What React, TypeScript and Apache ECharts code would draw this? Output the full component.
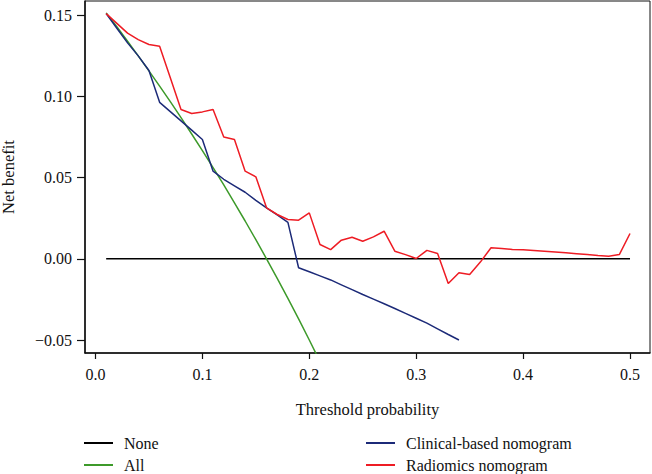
import React, { useEffect, useRef } from "react";
import * as echarts from "echarts";

const xTicks = [0, 0.1, 0.2, 0.3, 0.4, 0.5];
const yTicks = [-0.05, 0, 0.05, 0.1, 0.15];

const noneX = [0.01, 0.5];
const noneY = [0, 0];

const allX = [0.01, 0.02, 0.03, 0.04, 0.05, 0.06, 0.07, 0.08, 0.09, 0.1, 0.11, 0.12, 0.13, 0.14, 0.15, 0.16, 0.17, 0.18, 0.19, 0.2, 0.21];
const allY = [0.1515, 0.1429, 0.134, 0.125, 0.1158, 0.1064, 0.0968, 0.087, 0.0769, 0.0667, 0.0562, 0.0455, 0.0345, 0.0233, 0.0118, 0.0, -0.0121, -0.0244, -0.037, -0.05, -0.0633];

const clinicalX = [0.01, 0.02, 0.03, 0.04, 0.05, 0.06, 0.07, 0.08, 0.09, 0.1, 0.11, 0.12, 0.13, 0.14, 0.15, 0.16, 0.17, 0.18, 0.19, 0.2, 0.21, 0.22, 0.23, 0.24, 0.25, 0.26, 0.27, 0.28, 0.29, 0.3, 0.31, 0.32, 0.33, 0.34];
const clinicalY = [0.151, 0.142, 0.133, 0.125, 0.116, 0.0964, 0.0907, 0.085, 0.0793, 0.0735, 0.054, 0.049, 0.045, 0.041, 0.036, 0.0314, 0.027, 0.0225, -0.0055, -0.008, -0.0105, -0.013, -0.016, -0.019, -0.022, -0.0248, -0.0277, -0.0306, -0.0336, -0.0366, -0.0396, -0.0431, -0.0466, -0.05];

const radiomicsX = [0.01, 0.02, 0.03, 0.04, 0.05, 0.06, 0.07, 0.08, 0.09, 0.1, 0.11, 0.12, 0.13, 0.14, 0.15, 0.16, 0.17, 0.18, 0.19, 0.2, 0.21, 0.22, 0.23, 0.24, 0.25, 0.26, 0.27, 0.28, 0.29, 0.3, 0.31, 0.32, 0.33, 0.34, 0.35, 0.36, 0.37, 0.38, 0.39, 0.4, 0.41, 0.42, 0.43, 0.44, 0.45, 0.46, 0.47, 0.48, 0.49, 0.5];
const radiomicsY = [0.151, 0.145, 0.139, 0.135, 0.132, 0.131, 0.1115, 0.092, 0.0895, 0.0905, 0.092, 0.075, 0.0735, 0.054, 0.0505, 0.0314, 0.0273, 0.0242, 0.0238, 0.0283, 0.0088, 0.0057, 0.0115, 0.0133, 0.0108, 0.0135, 0.017, 0.0047, 0.0026, 0.0002, 0.0052, 0.0033, -0.0152, -0.0086, -0.0097, -0.002, 0.0068, 0.0063, 0.0058, 0.0056, 0.0052, 0.0047, 0.0042, 0.0037, 0.0032, 0.0027, 0.0021, 0.0016, 0.0026, 0.0156];

const pairs = (xs: number[], ys: number[]) => xs.map((x, i) => [x, ys[i]]);

const FONT = "'Liberation Serif', 'DejaVu Serif', serif";

export default function App() {
  const ref = useRef<HTMLDivElement>(null);
  useEffect(() => {
    if (!ref.current) return;
    const chart = echarts.init(ref.current, null, { renderer: "svg" });
    const legendCommon = {
      orient: "vertical",
      icon: "rect",
      itemWidth: 29,
      itemHeight: 2,
      itemGap: 6,
      height: 80,
      width: 260,
      padding: 0,
      textStyle: { fontFamily: FONT, fontSize: 16, color: "#111", padding: [0, 0, 0, 6] },
      selectedMode: false,
    };
    chart.setOption({
      animation: false,
      textStyle: { fontFamily: FONT },
      grid: {
        left: 85,
        right: 2,
        top: 1,
        bottom: 121,
        show: true,
        borderColor: "#111",
        borderWidth: 1,
        outerBoundsMode: "none",
        containLabel: false,
      },
      legend: [
        { ...legendCommon, data: ["None", "All"], left: 84, top: 435 },
        { ...legendCommon, data: ["Clinical-based nomogram", "Radiomics nomogram"], left: 366, top: 435 },
      ],
      xAxis: {
        type: "value",
        min: -0.0098,
        max: 0.5187,
        name: "Threshold probability",
        nameLocation: "middle",
        nameGap: 48,
        nameTextStyle: { fontFamily: FONT, fontSize: 16.5, color: "#111" },
        axisLine: { show: true, onZero: false, lineStyle: { color: "#111", width: 1.5 } },
        axisTick: { show: true, inside: false, length: 6, customValues: xTicks, lineStyle: { color: "#111", width: 1.2 } },
        axisLabel: {
          customValues: xTicks,
          margin: 13,
          fontFamily: FONT,
          fontSize: 16,
          color: "#111",
          formatter: (v: number) => v.toFixed(1),
        },
        splitLine: { show: false },
      },
      yAxis: {
        type: "value",
        min: -0.058,
        max: 0.1588,
        name: "Net benefit",
        nameLocation: "middle",
        nameGap: 68,
        nameTextStyle: { fontFamily: FONT, fontSize: 16.5, color: "#111" },
        axisLine: { show: true, onZero: false, lineStyle: { color: "#111", width: 1.5 } },
        axisTick: { show: true, inside: false, length: 8, customValues: yTicks, lineStyle: { color: "#111", width: 1.2 } },
        axisLabel: {
          customValues: yTicks,
          margin: 13,
          fontFamily: FONT,
          fontSize: 16,
          color: "#111",
          formatter: (v: number) => v.toFixed(2).replace("-", "\u2212"),
        },
        splitLine: { show: false },
      },
      series: [
        {
          name: "None",
          type: "line",
          data: pairs(noneX, noneY),
          showSymbol: false,
          color: "#000",
          lineStyle: { color: "#000", width: 1.5 },
          clip: true,
        },
        {
          name: "All",
          type: "line",
          data: pairs(allX, allY),
          showSymbol: false,
          color: "#3d9a2a",
          lineStyle: { color: "#3d9a2a", width: 1.5 },
          clip: true,
        },
        {
          name: "Clinical-based nomogram",
          type: "line",
          data: pairs(clinicalX, clinicalY),
          showSymbol: false,
          color: "#1c2a78",
          lineStyle: { color: "#1c2a78", width: 1.5 },
          clip: true,
        },
        {
          name: "Radiomics nomogram",
          type: "line",
          data: pairs(radiomicsX, radiomicsY),
          showSymbol: false,
          color: "#ee1c24",
          lineStyle: { color: "#ee1c24", width: 1.5 },
          clip: true,
        },
      ],
    });
    return () => chart.dispose();
  }, []);
  return <div ref={ref} style={{ width: 652, height: 474, position: "absolute", left: 0, top: 0 }} />;
}
